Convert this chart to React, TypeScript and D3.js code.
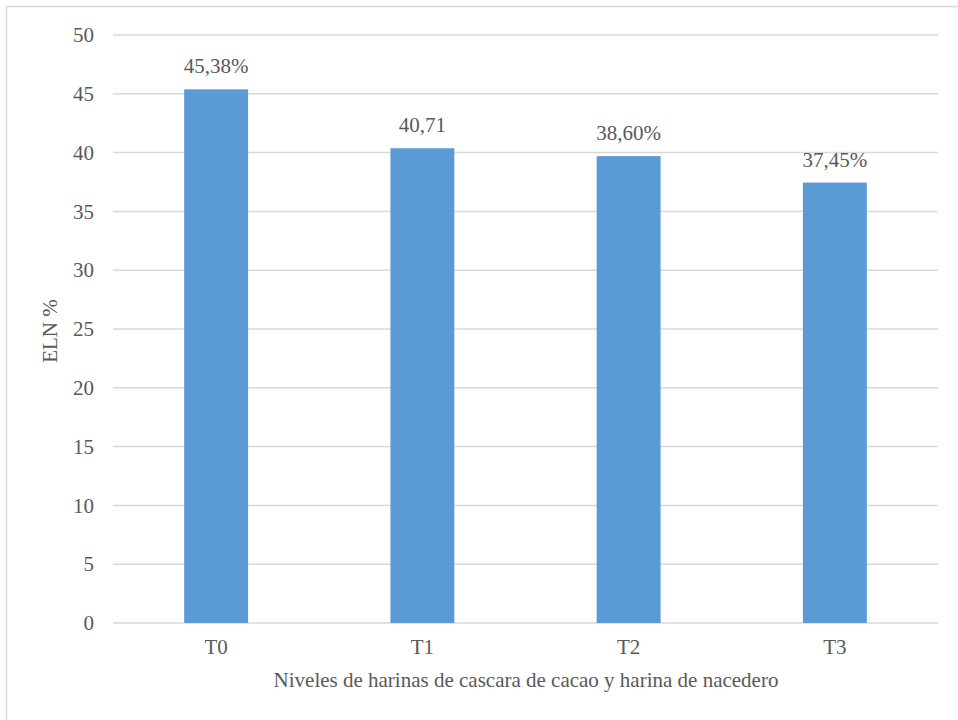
import React from "react";
import * as d3 from "d3";

const categories = ["T0", "T1", "T2", "T3"];
const barValues = [45.38, 40.37, 39.7, 37.45];
const barLabels = ["45,38%", "40,71", "38,60%", "37,45%"];
const yTicks = [0, 5, 10, 15, 20, 25, 30, 35, 40, 45, 50];
const yTitle = "ELN %";
const xTitle = "Niveles de harinas de cascara de cacao y harina de nacedero";

export default function App() {
  const W = 958, H = 720;
  const left = 113, right = 938, top = 35, bottom = 623;
  const x = d3.scaleBand<string>().domain(categories).range([left, right]).paddingInner(0.69).paddingOuter(0.345);
  const y = d3.scaleLinear().domain([0, 50]).range([bottom, top]);
  const ts = { fontFamily: '"Liberation Serif", "Times New Roman", Times, serif' };
  const color = "#595959";
  const fs = 21;
  return (
    <svg width={W} height={H} style={{ position: "absolute", left: 0, top: 0 }}>
      <rect x={0} y={0} width={W} height={H} fill="#fff" />
      <rect x={6.5} y={6.5} width={W + 10} height={H + 10} fill="none" stroke="#d9d9d9" strokeWidth={1.5} />
      {yTicks.map((t) => (
        <g key={t}>
          <line x1={left} x2={right} y1={y(t)} y2={y(t)} stroke="#d9d9d9" strokeWidth={1.5} />
          <text style={ts} x={94} y={y(t)} dy="0.34em" textAnchor="end" fontSize={fs} fill={color}>{t}</text>
        </g>
      ))}
      {categories.map((c, i) => {
        const bx = x(c)!;
        const bw = x.bandwidth();
        return (
          <g key={c}>
            <rect x={bx} y={y(barValues[i])} width={bw} height={bottom - y(barValues[i])} fill="#5b9bd5" />
            <text style={ts} x={bx + bw / 2} y={y(barValues[i]) - 16} textAnchor="middle" fontSize={fs} fill={color}>{barLabels[i]}</text>
            <text style={ts} x={bx + bw / 2} y={654} textAnchor="middle" fontSize={fs} fill={color}>{c}</text>
          </g>
        );
      })}
      <text style={ts} x={526} y={687} textAnchor="middle" fontSize={fs} fill={color}>{xTitle}</text>
      <text style={ts} transform={`translate(57, 331) rotate(-90)`} textAnchor="middle" fontSize={fs} fill={color}>{yTitle}</text>
    </svg>
  );
}
